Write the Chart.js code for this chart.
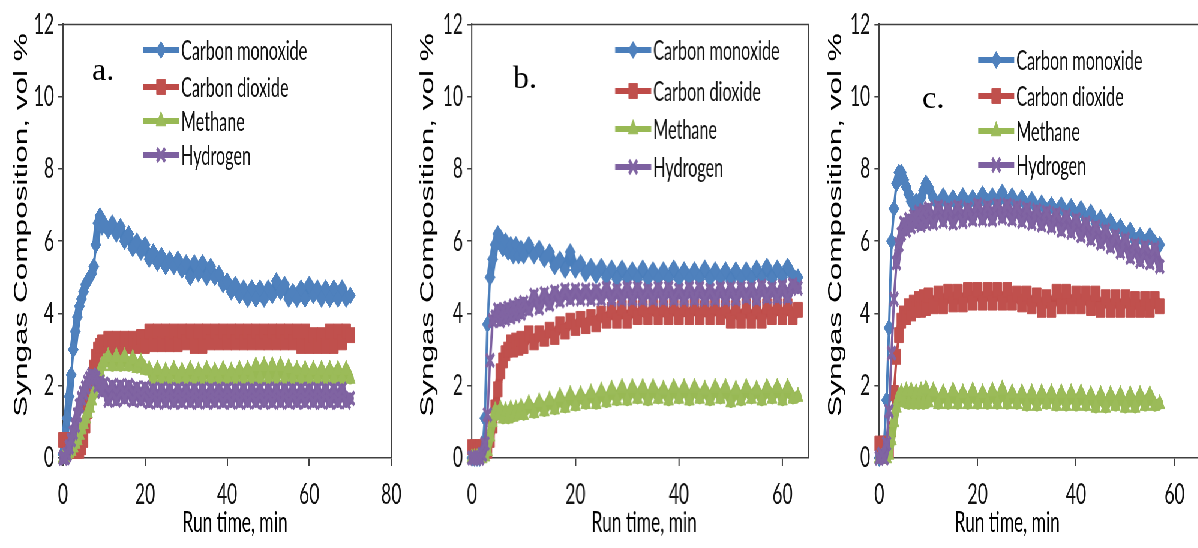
<!DOCTYPE html>
<html>
<head>
<meta charset="utf-8">
<script src="https://cdn.jsdelivr.net/npm/chart.js@4"></script>
<style>
  html, body { margin: 0; padding: 0; background: #fff; overflow: hidden; width: 1198px; height: 548px; }
  /* the reference figure is squeezed horizontally, so the whole stage is too */
  #stage { position: absolute; left: 0; top: 0; width: 1997px; height: 548px; transform: scaleX(0.6); transform-origin: 0 0; }
  .panel { position: absolute; top: 0; height: 548px; }
</style>
</head>
<body>
<div id="stage">
  <div class="panel" id="pa"><canvas id="ca"></canvas></div>
  <div class="panel" id="pb"><canvas id="cb"></canvas></div>
  <div class="panel" id="pc"><canvas id="cc"></canvas></div>
</div>
<script>
var S = 0.6;

var seriesNames = ["Carbon monoxide", "Carbon dioxide", "Methane", "Hydrogen"];
var xTickLabels = [0, 20, 40, 60, 80];
var yTickLabels = [0, 2, 4, 6, 8, 10, 12];

// ---- panel a ----
var timeA = [0,0.5,1,1.5,2,2.5,3,3.5,4,4.5,5,5.5,6,6.5,7,7.5,8,8.5,9,9.5,10,
  11,12,13,14,15,16,17,18,19,20,21,22,23,24,25,26,27,28,29,30,
  31,32,33,34,35,36,37,38,39,40,41,42,43,44,45,46,47,48,49,50,
  51,52,53,54,55,56,57,58,59,60,61,62,63,64,65,66,67,68,69,70];
var coA = [0.1,0.6,1.1,1.7,2.3,3.0,3.5,3.9,4.2,4.4,4.6,4.8,4.9,5.0,5.1,5.3,5.9,6.5,6.7,6.4,6.5,
  6.3,6.5,6.2,6.4,6.0,6.2,5.8,6.0,5.7,5.9,5.5,5.7,5.4,5.6,5.3,5.5,5.3,5.5,5.2,5.4,
  5.0,5.4,5.1,5.4,5.0,5.3,5.0,5.1,4.8,4.9,4.6,4.8,4.5,4.7,4.4,4.7,4.4,4.7,4.4,4.7,
  4.5,4.9,4.6,4.8,4.4,4.6,4.4,4.7,4.4,4.8,4.5,4.7,4.4,4.7,4.4,4.7,4.4,4.7,4.4,4.5];
var co2A = [0.5,0.5,0.4,0.3,0.3,0.2,0.2,0.2,0.2,0.3,0.5,0.9,1.3,1.7,2.1,2.5,2.8,3.0,3.1,3.2,3.1,
  3.3,3.05,3.3,3.05,3.3,3.1,3.3,3.1,3.35,3.1,3.5,3.15,3.5,3.15,3.5,3.15,3.5,3.15,3.5,3.2,
  3.5,3.1,3.5,3.1,3.5,3.2,3.5,3.2,3.5,3.2,3.5,3.2,3.5,3.2,3.5,3.2,3.5,3.2,3.5,3.2,
  3.5,3.2,3.5,3.2,3.5,3.2,3.5,3.1,3.5,3.1,3.4,3.1,3.4,3.1,3.5,3.1,3.5,3.2,3.5,3.4];
var ch4A = [0,0,0.1,0.15,0.2,0.3,0.4,0.5,0.65,0.8,0.95,1.1,1.25,1.4,1.6,1.8,2.0,2.2,2.4,2.55,2.65,
  2.8,2.55,2.8,2.55,2.8,2.55,2.75,2.5,2.65,2.45,2.45,2.2,2.45,2.2,2.4,2.2,2.45,2.2,2.4,2.2,
  2.45,2.2,2.4,2.2,2.45,2.2,2.4,2.2,2.45,2.2,2.4,2.2,2.45,2.2,2.45,2.2,2.55,2.2,2.55,2.2,
  2.55,2.2,2.55,2.2,2.5,2.2,2.45,2.2,2.45,2.2,2.45,2.2,2.45,2.2,2.45,2.2,2.45,2.2,2.45,2.2];
var h2A = [0,0,0.1,0.3,0.5,0.7,0.9,1.2,1.45,1.65,1.8,1.95,2.1,2.2,2.3,2.25,2.2,2.0,2.1,1.85,2.05,
  1.6,2.0,1.6,2.0,1.65,2.0,1.6,1.95,1.6,1.95,1.55,1.9,1.55,1.9,1.55,1.9,1.55,1.9,1.55,1.9,
  1.55,1.9,1.55,1.9,1.55,1.9,1.55,1.9,1.55,1.9,1.55,1.9,1.55,1.9,1.55,1.9,1.55,1.9,1.55,1.9,
  1.55,1.9,1.55,1.9,1.55,1.9,1.55,1.9,1.55,1.9,1.55,1.9,1.55,1.9,1.55,1.9,1.55,1.9,1.55,1.65];

// ---- panel b ----
var timeB = [0,0.5,1,1.5,2,2.5,3,3.5,4,4.5,5,5.5,6,6.5,7,7.5,8,8.5,9,9.5,10,
  11,12,13,14,15,16,17,18,19,20,21,22,23,24,25,26,27,28,29,30,
  31,32,33,34,35,36,37,38,39,40,41,42,43,44,45,46,47,48,49,50,
  51,52,53,54,55,56,57,58,59,60,61,62,63];
var coB = [0,0,0,0,0.1,1.1,3.7,5.0,5.5,5.9,6.2,6.1,5.8,6.0,5.7,5.9,5.6,5.9,5.6,5.8,5.6,
  5.9,5.6,5.8,5.5,5.7,5.3,5.5,5.2,5.7,5.2,5.4,5.1,5.3,5.05,5.3,5.0,5.25,4.95,5.25,4.95,
  5.2,4.95,5.25,4.95,5.2,4.95,5.2,4.95,5.25,4.95,5.2,4.95,5.2,4.95,5.25,4.95,5.2,4.95,5.2,4.9,
  5.2,4.95,5.2,4.95,5.25,4.95,5.3,4.95,5.25,5.0,5.3,5.05,5.0];
var co2B = [0.3,0.3,0.2,0.3,0.3,0.2,0.2,0.5,0.9,1.4,1.9,2.4,2.7,2.9,3.0,3.2,3.0,3.25,3.05,3.3,3.1,
  3.45,3.2,3.45,3.3,3.55,3.35,3.7,3.5,3.8,3.6,3.85,3.65,3.9,3.7,4.0,3.8,4.1,3.8,4.15,3.8,
  4.15,3.9,4.15,3.9,4.2,3.9,4.15,3.9,4.2,3.9,4.15,3.9,4.2,3.9,4.15,3.9,4.2,3.9,4.15,3.8,
  4.15,3.8,4.2,3.8,4.15,3.8,4.2,3.9,4.2,3.9,4.2,3.9,4.1];
var ch4B = [0,0,0,0,0,0.05,0.2,0.6,1.0,1.3,1.2,1.35,1.1,1.3,1.1,1.35,1.15,1.35,1.2,1.4,1.2,
  1.5,1.25,1.55,1.3,1.6,1.35,1.7,1.4,1.75,1.45,1.75,1.5,1.8,1.5,1.85,1.55,1.9,1.6,1.95,1.6,
  1.95,1.65,1.95,1.6,1.95,1.65,1.9,1.6,1.95,1.65,1.95,1.6,1.95,1.65,1.9,1.6,1.95,1.65,1.95,1.55,
  1.9,1.6,1.95,1.65,1.9,1.6,1.95,1.65,1.95,1.6,1.95,1.65,1.7];
var h2B = [0,0,0,0,0.1,0.4,1.2,2.7,3.8,3.9,4.1,3.8,4.1,3.85,4.15,3.9,4.2,3.95,4.25,4.0,4.3,
  4.1,4.5,4.15,4.55,4.25,4.6,4.35,4.65,4.4,4.65,4.4,4.65,4.4,4.65,4.4,4.7,4.4,4.65,4.4,4.7,
  4.4,4.7,4.4,4.65,4.4,4.7,4.4,4.7,4.4,4.65,4.4,4.7,4.4,4.7,4.4,4.65,4.4,4.7,4.4,4.7,
  4.4,4.7,4.45,4.7,4.4,4.75,4.45,4.7,4.45,4.75,4.45,4.8,4.7];

// ---- panel c ----
var timeC = [0,0.5,1,1.5,2,2.5,3,3.5,4,4.5,5,5.5,6,6.5,7,7.5,8,8.5,9,9.5,10,
  11,12,13,14,15,16,17,18,19,20,21,22,23,24,25,26,27,28,29,30,
  31,32,33,34,35,36,37,38,39,40,41,42,43,44,45,46,47,48,49,50,
  51,52,53,54,55,56,57];
var coC = [0,0.1,0.4,1.6,3.6,6.0,6.9,7.6,7.9,7.9,7.7,7.5,7.3,7.1,7.0,7.1,7.0,7.2,7.4,7.6,7.5,
  7.2,7.0,7.25,7.0,7.2,6.95,7.25,7.0,7.2,7.0,7.3,7.05,7.25,7.05,7.35,7.05,7.25,7.0,7.2,6.95,
  7.15,6.9,7.05,6.85,7.0,6.8,7.0,6.75,6.95,6.7,6.9,6.6,6.8,6.5,6.65,6.4,6.55,6.3,6.4,6.15,
  6.3,6.0,6.15,5.95,6.15,5.95,5.9];
var co2C = [0.4,0.3,0.4,0.3,0.2,0.8,1.8,2.8,3.4,3.8,4.0,3.9,4.2,4.0,4.3,4.1,4.4,4.1,4.45,4.15,4.5,
  4.2,4.55,4.2,4.6,4.25,4.6,4.25,4.65,4.3,4.65,4.3,4.65,4.3,4.65,4.3,4.65,4.3,4.55,4.25,4.55,
  4.2,4.5,4.1,4.45,4.1,4.6,4.2,4.6,4.2,4.55,4.2,4.55,4.15,4.55,4.1,4.45,4.1,4.45,4.1,4.45,
  4.1,4.4,4.1,4.4,4.1,4.4,4.2];
var ch4C = [0,0,0,0,0.1,0.5,1.0,1.4,1.7,1.8,1.55,1.85,1.5,1.85,1.5,1.8,1.5,1.85,1.5,1.9,1.55,
  1.85,1.5,1.8,1.5,1.85,1.5,1.8,1.5,1.85,1.5,1.8,1.5,1.85,1.5,1.9,1.5,1.8,1.5,1.8,1.45,
  1.8,1.45,1.8,1.5,1.8,1.45,1.8,1.45,1.8,1.45,1.8,1.45,1.75,1.4,1.75,1.4,1.75,1.45,1.75,1.4,
  1.75,1.4,1.75,1.45,1.75,1.45,1.5];
var h2C = [0,0.1,0,0.4,1.3,2.9,4.4,5.4,5.9,6.2,6.5,6.3,6.6,6.4,6.7,6.5,6.8,6.45,6.85,6.5,6.9,
  6.5,6.95,6.55,6.9,6.5,6.95,6.55,6.9,6.6,7.0,6.6,6.95,6.6,7.0,6.65,7.0,6.6,6.95,6.55,6.9,
  6.5,6.85,6.45,6.8,6.4,6.75,6.3,6.7,6.25,6.6,6.15,6.5,6.05,6.4,5.95,6.3,5.85,6.15,5.7,6.05,
  5.55,5.9,5.45,5.85,5.4,5.8,5.3];

var looks = [
  { line: "#4A7EBB", fill: "#4F81BD", shape: "rectRot", r: 8.5, bw: 1 },
  { line: "#BE4B48", fill: "#C0504D", shape: "rect", r: 10.5, bw: 1 },
  { line: "#98B954", fill: "#9BBB59", shape: "triangle", r: 9.5, bw: 1 },
  { line: "#7D60A0", fill: "#8064A2", shape: "crossRot", r: 9.5, bw: 4 }
];
var axisColor = "#404040";
var AXIS_Y = 458;   // pixel row of the x axis
var TOP_Y = 16;     // pixel row of the top of the plot

function marker(ctx, look, x, y, r) {
  ctx.fillStyle = look.fill;
  ctx.strokeStyle = look.fill;
  ctx.lineWidth = look.bw;
  Chart.helpers.drawPoint(ctx, { pointStyle: look.shape, radius: r, rotation: 0, borderWidth: look.bw }, x, y);
}

var decor = {
  id: "decor",
  beforeDatasetsDraw: function (chart) {
    var a = chart.chartArea, ctx = chart.ctx;
    ctx.save();
    ctx.strokeStyle = axisColor;
    ctx.lineWidth = 1.5;
    ctx.beginPath(); ctx.moveTo(a.left, a.top); ctx.lineTo(a.right + 1, a.top); ctx.stroke();
    ctx.lineWidth = 2;
    ctx.beginPath(); ctx.moveTo(a.right, a.top); ctx.lineTo(a.right, a.bottom); ctx.stroke();
    ctx.restore();
  },
  afterDraw: function (chart) {
    var p = chart.options.plugins.decor, ctx = chart.ctx;
    var ix = function (ax) { return (ax - p.left) / S; };
    ctx.save();
    // legend
    ctx.font = "27px Lato";
    ctx.textBaseline = "middle";
    ctx.textAlign = "left";
    seriesNames.forEach(function (name, i) {
      var y = p.legendRows[i], look = looks[i];
      ctx.strokeStyle = look.line;
      ctx.lineWidth = 6;
      ctx.beginPath(); ctx.moveTo(ix(p.legendX), y); ctx.lineTo(ix(p.legendX + 36), y); ctx.stroke();
      marker(ctx, look, ix(p.legendX + 18), y, look.r);
      ctx.fillStyle = "#111";
      ctx.fillText(name, ix(p.legendX + 38), y + 1);
    });
    // x title
    ctx.font = "29px Lato";
    ctx.textAlign = "center";
    ctx.fillStyle = "#000";
    ctx.fillText("Run time, min", ix(p.xTitleX), 523);
    // y title
    ctx.save();
    ctx.translate(ix(p.yTitleX), 225);
    ctx.rotate(-Math.PI / 2);
    ctx.font = "31.5px 'Liberation Sans'";
    ctx.fillText("Syngas Composition, vol %", 0, 0);
    ctx.restore();
    // panel letter (not squeezed in the reference)
    ctx.scale(1 / S, 1);
    ctx.font = "32px 'Liberation Serif'";
    ctx.textAlign = "left";
    ctx.fillText(p.label, p.labelX - p.left, p.labelY);
    ctx.restore();
  }
};

// dense noisy readings look like a solid ribbon; steep start-up jumps stay thin
function ribbonWidth(c) {
  return Math.abs(c.p1.parsed.y - c.p0.parsed.y) > 0.6 ? 4 : 12;
}

function makePanel(p, times, values) {
  var holder = document.getElementById(p.holder);
  holder.style.left = (p.left / S) + "px";
  holder.style.width = (p.width / S) + "px";
  var datasets = values.map(function (vals, i) {
    var look = looks[i];
    return {
      label: seriesNames[i],
      data: times.map(function (t, k) { return { x: t, y: vals[k] }; }),
      borderColor: look.line,
      backgroundColor: look.fill,
      pointBackgroundColor: look.fill,
      pointBorderColor: look.fill,
      pointStyle: look.shape,
      pointRadius: look.r,
      pointBorderWidth: look.bw,
      borderWidth: 12,
      borderJoinStyle: "round",
      borderCapStyle: "round",
      segment: { borderWidth: ribbonWidth },
      tension: 0,
      clip: false,
      order: 3 - i
    };
  });
  new Chart(document.getElementById(p.canvas), {
    type: "line",
    data: { datasets: datasets },
    options: {
      responsive: true,
      maintainAspectRatio: false,
      animation: false,
      events: [],
      layout: { padding: { left: 0, top: TOP_Y, right: (p.left + p.width - p.axisRight) / S, bottom: 0 } },
      plugins: { legend: { display: false }, tooltip: { enabled: false }, decor: p },
      scales: {
        x: {
          type: "linear", min: 0, max: p.xMax,
          afterBuildTicks: function (s) {
            s.ticks = xTickLabels.filter(function (v) { return v <= p.xMax; }).map(function (v) { return { value: v }; });
          },
          afterFit: function (s) { s.height = 548 - AXIS_Y; },
          grid: { display: true, drawOnChartArea: false, drawTicks: true, tickLength: 8, color: axisColor, lineWidth: 2 },
          border: { display: true, color: axisColor, width: 1.5 },
          ticks: { font: { family: "Lato", size: 29 }, color: "#111", padding: 11, maxRotation: 0 }
        },
        y: {
          min: 0, max: 12,
          afterBuildTicks: function (s) {
            s.ticks = yTickLabels.map(function (v) { return { value: v }; });
          },
          afterFit: function (s) { s.width = (p.axisLeft - p.left) / S; },
          grid: { display: true, drawOnChartArea: false, drawTicks: true, tickLength: 8, color: axisColor, lineWidth: 1.5 },
          border: { display: true, color: axisColor, width: 2 },
          ticks: { font: { family: "Lato", size: 29 }, color: "#111", padding: 7 }
        }
      }
    },
    plugins: [decor]
  });
}

makePanel({ holder: "pa", canvas: "ca", left: 0, width: 408, axisLeft: 63, axisRight: 405, xMax: 80,
  legendX: 143, legendRows: [50, 87, 121, 155], xTitleX: 235, yTitleX: 21.5,
  label: "a.", labelX: 92, labelY: 72 }, timeA, [coA, co2A, ch4A, h2A]);
makePanel({ holder: "pb", canvas: "cb", left: 410, width: 406, axisLeft: 472, axisRight: 812, xMax: 65,
  legendX: 615, legendRows: [50, 91, 129, 167], xTitleX: 644, yTitleX: 428,
  label: "b.", labelX: 513, labelY: 80 }, timeB, [coB, co2B, ch4B, h2B]);
makePanel({ holder: "pc", canvas: "cc", left: 817, width: 390, axisLeft: 879, axisRight: 1203, xMax: 65,
  legendX: 978, legendRows: [60, 96, 131, 165], xTitleX: 1007, yTitleX: 836,
  label: "c.", labelX: 922, labelY: 100 }, timeC, [coC, co2C, ch4C, h2C]);
</script>
</body>
</html>
